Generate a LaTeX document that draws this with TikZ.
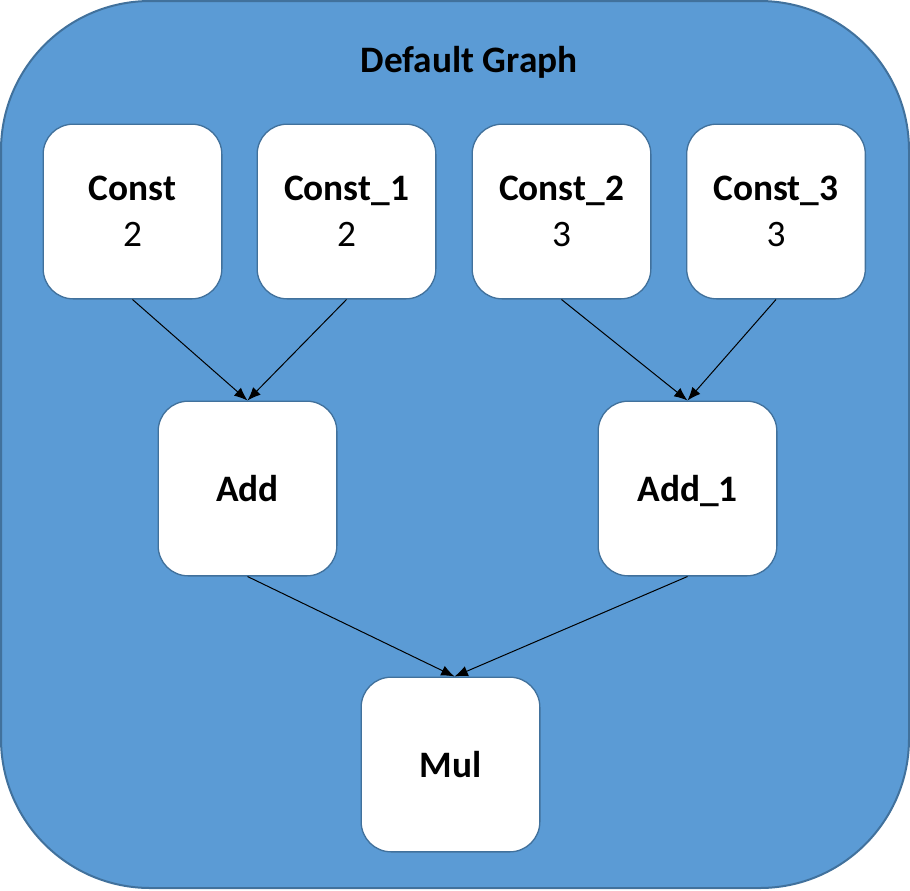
\documentclass[tikz,border=0pt]{standalone}
\usepackage{fontspec}
\setmainfont{Carlito}
\usetikzlibrary{arrows.meta}
\definecolor{graphblue}{HTML}{5B9BD5}
\definecolor{graphedge}{HTML}{41719C}
\begin{document}
\begin{tikzpicture}[x=0.75pt,y=-0.75pt,line join = round, >={Latex[length=10pt,width=8pt]},
	op/.style={draw=graphedge,line width=1pt,fill=white,rounded corners=22.5pt,
		minimum width=134pt,minimum height=131pt,align=center,
		font=\fontsize{28}{34.5}\selectfont},
	flow/.style={->,line width=0.75pt}]
				\useasboundingbox (0,0) rectangle (910,890);
				\draw[graphedge,line width=1.5pt,fill=graphblue,rounded corners=112pt] (1,1) rectangle (909,888);
				\node[font=\fontsize{28}{34.5}\selectfont\bfseries] (title) at (469,62) {Default Graph};
				\node[op] (const) at (132.5,211.5) {\textbf{Const}\\2};
				\node[op] (const1) at (346.5,211.5) {\textbf{Const\_1}\\2};
				\node[op] (const2) at (561.5,211.5) {\textbf{Const\_2}\\3};
				\node[op] (const3) at (776,211.5) {\textbf{Const\_3}\\3};
				\node[op] (add) at (247.5,488.5) {\textbf{Add}};
				\node[op] (add1) at (687.5,488.5) {\textbf{Add\smash{\_}1}};
				\node[op] (mul) at (450.5,764.5) {\textbf{Mul}};
				\draw[flow] (const.south) -- (add.north);
				\draw[flow] (const1.south) -- (add.north);
				\draw[flow] (const2.south) -- (add1.north);
				\draw[flow] (const3.south) -- (add1.north);
				\draw[flow] (add.south) -- ([xshift=3pt]mul.north);
				\draw[flow] (add1.south) -- ([xshift=3pt]mul.north);
			\end{tikzpicture}
\end{document}
